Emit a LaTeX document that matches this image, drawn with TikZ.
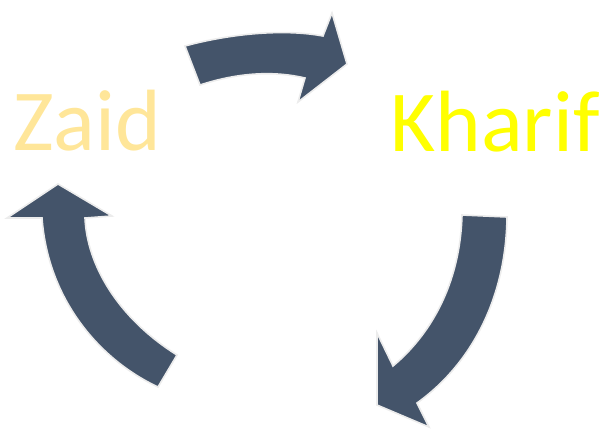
\documentclass[tikz,border=0pt]{standalone}
\usepackage{fontspec}
\setmainfont{Carlito}
\definecolor{arrowblue}{HTML}{44546A}
\definecolor{zaidcol}{HTML}{FFE699}
\definecolor{kharifcol}{HTML}{FFFF00}
\begin{document}
\begin{tikzpicture}[x=1pt,y=-1pt,
  cyclearrow/.style={fill=arrowblue,draw=gray!15,line width=1.6pt,line join=miter},
  season/.style={font=\fontsize{87}{90}\selectfont,inner sep=0pt,anchor=base west}]
\useasboundingbox (0,0) rectangle (601,432);
% top arrow
\path[cyclearrow] (185,46) .. controls (225,35) and (280,28) .. (323,36)
  -- (332,13) -- (347,64) -- (298,102) -- (305,78)
  .. controls (275,71) and (240,72) .. (200,85) -- cycle;
% right arrow
\path[cyclearrow] (507,217) .. controls (506,300) and (470,365) .. (417,403)
  -- (429,427) -- (377,405) -- (377,333) -- (393,366)
  .. controls (430,335) and (460,285) .. (462,215) -- cycle;
% left arrow
\path[cyclearrow] (158,387) .. controls (100,360) and (48,300) .. (42,218)
  -- (7,218) -- (58,184) -- (112,216) -- (85,218)
  .. controls (87,265) and (118,318) .. (177,355) -- cycle;
\node[season,text=zaidcol] (zaid) at (13,150) {Zaid};
\node[season,text=kharifcol] (kharif) at (390,151) {Kharif};
\end{tikzpicture}
\end{document}
